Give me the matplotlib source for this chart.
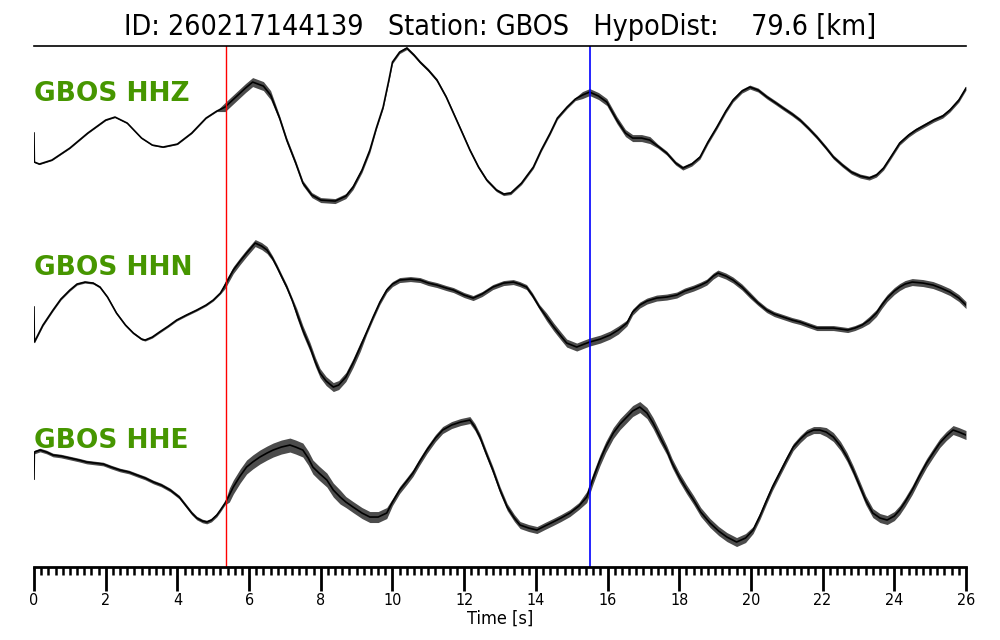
import numpy as np
import matplotlib
matplotlib.use("Agg")
import matplotlib.pyplot as plt

# traces (time [s], relative amplitude)
hhz_t = [0.0, 0.01, 0.15, 0.5, 1.0, 1.5, 2.0, 2.26, 2.6, 3.0, 3.3, 3.6, 4.0, 4.4, 4.8, 5.1, 5.33, 5.6, 5.9, 6.1,
         6.4, 6.6, 6.85, 7.05, 7.3, 7.5, 7.75, 8.0, 8.4, 8.7, 8.9, 9.15, 9.37, 9.55, 9.74, 9.9, 10.0, 10.2, 10.4, 10.6,
         10.77, 11.0, 11.24, 11.5, 11.7, 11.95, 12.16, 12.4, 12.63, 12.9, 13.1, 13.3, 13.6, 13.93, 14.15, 14.4, 14.6, 14.87, 15.1, 15.3,
         15.5, 15.75, 15.98, 16.26, 16.5, 16.7, 16.95, 17.18, 17.4, 17.65, 17.9, 18.1, 18.35, 18.58, 18.8, 19.05, 19.3, 19.5, 19.75, 19.97,
         20.2, 20.45, 20.7, 20.9, 21.15, 21.37, 21.6, 21.84, 22.1, 22.3, 22.55, 22.8, 23.05, 23.3, 23.5, 23.7, 23.9, 24.15, 24.4, 24.6,
         24.85, 25.1, 25.35, 25.55, 25.8, 26.0]
hhz = [-6, -35, -37, -33, -21, -6, 7, 10, 4, -11, -18, -20, -17, -6, 9, 16, 20, 29, 39, 45,
       41, 32, 9, -13, -36, -56, -68, -73, -74, -69, -60, -43, -23, -1, 20, 47, 65, 75, 79, 72,
       65, 57, 47, 30, 14, -6, -23, -40, -53, -63, -67, -66, -56, -40, -23, -6, 9, 20, 28, 32,
       35, 31, 25, 7, -6, -11, -11, -13, -19, -26, -36, -41, -37, -30, -15, 0, 16, 27, 36, 40,
       37, 30, 24, 19, 13, 7, -1, -10, -21, -30, -38, -45, -49, -51, -48, -41, -30, -16, -8, -3,
       2, 7, 11, 17, 27, 39]

hhn_t = [0.0, 0.01, 0.25, 0.53, 0.75, 1.0, 1.2, 1.42, 1.65, 1.84, 2.05, 2.3, 2.55, 2.77, 3.0, 3.1, 3.3, 3.5, 3.75, 3.98,
         4.25, 4.54, 4.8, 5.0, 5.2, 5.33, 5.56, 5.75, 5.93, 6.17, 6.35, 6.5, 6.65, 6.78, 6.9, 7.05, 7.2, 7.33, 7.5, 7.7,
         7.85, 7.98, 8.15, 8.35, 8.5, 8.7, 8.9, 9.1, 9.28, 9.46, 9.65, 9.84, 10.0, 10.2, 10.5, 10.77, 11.0, 11.24, 11.5, 11.7,
         12.0, 12.25, 12.5, 12.8, 13.1, 13.37, 13.55, 13.74, 13.9, 14.1, 14.3, 14.5, 14.7, 14.86, 15.14, 15.35, 15.5, 15.8, 16.07, 16.3,
         16.54, 16.7, 16.9, 17.1, 17.37, 17.65, 17.93, 18.15, 18.4, 18.6, 18.77, 18.95, 19.08, 19.3, 19.5, 19.75, 19.97, 20.2, 20.44, 20.65,
         20.9, 21.15, 21.37, 21.6, 21.84, 22.1, 22.3, 22.5, 22.7, 22.9, 23.1, 23.3, 23.5, 23.65, 23.8, 24.0, 24.15, 24.3, 24.5, 24.8,
         25.08, 25.3, 25.55, 25.8, 26.0]
hhn = [5, -30, -13, 2, 13, 22, 28, 30, 29, 25, 15, -1, -13, -21, -27, -28, -25, -20, -14, -8,
       -3, 2, 7, 12, 19, 27, 42, 51, 59, 69, 66, 62, 54, 45, 36, 25, 12, -1, -18, -35,
       -50, -61, -69, -75, -73, -65, -51, -35, -20, -5, 10, 22, 28, 32, 33, 32, 29, 27, 24, 22,
       17, 14, 18, 25, 29, 30, 28, 25, 17, 5, -5, -15, -24, -31, -35, -32, -30, -27, -23, -18,
       -11, 0, 7, 11, 14, 15, 17, 21, 24, 27, 30, 36, 39, 36, 32, 25, 17, 9, 2, -2,
       -5, -8, -10, -13, -16, -16, -16, -17, -18, -16, -13, -8, -1, 7, 14, 21, 25, 28, 30, 29,
       27, 24, 20, 14, 7]

hhe_t = [0.0, 0.01, 0.17, 0.35, 0.53, 0.75, 1.0, 1.25, 1.47, 1.7, 1.93, 2.15, 2.4, 2.65, 2.87, 3.1, 3.33, 3.55, 3.8, 4.05,
         4.27, 4.4, 4.54, 4.7, 4.82, 4.95, 5.1, 5.2, 5.33, 5.45, 5.56, 5.75, 5.93, 6.1, 6.3, 6.5, 6.67, 6.9, 7.14, 7.3,
         7.5, 7.65, 7.78, 7.95, 8.17, 8.35, 8.54, 8.7, 8.9, 9.15, 9.37, 9.6, 9.84, 10.0, 10.2, 10.4, 10.57, 10.75, 10.96, 11.2,
         11.4, 11.65, 11.9, 12.16, 12.3, 12.44, 12.6, 12.8, 13.0, 13.2, 13.4, 13.56, 13.8, 14.03, 14.25, 14.48, 14.7, 14.95, 15.2, 15.42,
         15.6, 15.79, 15.95, 16.16, 16.35, 16.54, 16.7, 16.9, 17.1, 17.27, 17.45, 17.65, 17.8, 18.0, 18.2, 18.4, 18.6, 18.86, 19.1, 19.33,
         19.6, 19.85, 20.06, 20.25, 20.44, 20.6, 20.8, 21.0, 21.18, 21.38, 21.56, 21.75, 21.92, 22.1, 22.3, 22.5, 22.68, 22.85, 23.05, 23.2,
         23.4, 23.6, 23.8, 24.0, 24.15, 24.3, 24.5, 24.7, 24.9, 25.1, 25.27, 25.45, 25.64, 25.8, 26.0]
hhe = [3, 30, 32, 30, 27, 26, 24, 22, 20, 19, 18, 15, 12, 10, 7, 4, 0, -3, -8, -15,
       -25, -31, -36, -39, -40, -38, -33, -28, -21, -13, -5, 6, 15, 20, 25, 29, 32, 35, 37, 35,
       32, 24, 15, 9, 2, -8, -15, -20, -25, -31, -35, -35, -31, -20, -8, 1, 9, 20, 32, 44,
       52, 57, 60, 62, 55, 45, 30, 12, -8, -25, -36, -43, -46, -48, -44, -40, -36, -31, -24, -15,
       4, 22, 35, 49, 58, 65, 71, 75, 69, 59, 46, 32, 19, 5, -7, -18, -30, -41, -49, -55,
       -60, -56, -48, -34, -18, -5, 9, 23, 35, 43, 49, 52, 52, 50, 45, 36, 25, 12, -5, -18,
       -31, -36, -38, -34, -28, -20, -8, 6, 19, 30, 39, 46, 52, 50, 47]

# half width of the high-frequency noise band, piecewise over time
hhz_noise_edges = [0, 5.3, 6.7, 9.5, 15.2, 17.2, 26]
hhz_noise = [0.5, 4.5, 2.5, 1.5, 3.5, 2]
hhn_noise_edges = [0, 5.3, 6.6, 7.3, 9.2, 14.3, 16.5, 20.0, 23.3, 26]
hhn_noise = [1, 3.5, 2.5, 4.5, 2.5, 4, 3, 2.5, 3.5]
hhe_noise_edges = [0, 5.35, 8.6, 10.0, 12.6, 15.3, 17.6, 20.0, 22.0, 26]
hhe_noise = [1.8, 7, 5.5, 3.5, 3.5, 5.5, 4.5, 3.5, 4.5]

channels = ["GBOS HHZ", "GBOS HHN", "GBOS HHE"]
p_pick = 5.36
s_pick = 15.51
title = "ID: 260217144139   Station: GBOS   HypoDist:    79.6 [km]"

fig = plt.figure(figsize=(10, 6.4), dpi=100)
ax = fig.add_axes([0.034, 0.114, 0.932, 0.814])

traces = [(hhz_t, hhz, hhz_noise_edges, hhz_noise),
          (hhn_t, hhn, hhn_noise_edges, hhn_noise),
          (hhe_t, hhe, hhe_noise_edges, hhe_noise)]
offsets = [440, 255, 85]
label_y = [466, 292, 119]

for (t, a, edges, lev), off, name, ly in zip(traces, offsets, channels, label_y):
    t = np.array(t)
    y = np.array(a) + off
    idx = np.clip(np.searchsorted(edges, t, side="right") - 1, 0, len(lev) - 1)
    w = np.array(lev)[idx]
    ax.fill_between(t, y - w, y + w, color="black", alpha=0.7, lw=0)
    ax.plot(t, y, color="black", lw=1.2)
    ax.text(0, ly, name, color="#469600", fontsize=19, fontweight="bold",
            ha="left", va="baseline")

ax.axvline(p_pick, color="red", lw=1.0)
ax.axvline(s_pick, color="blue", lw=1.2)

ax.set_xlim(0, 26)
ax.set_ylim(0, 521)
ax.set_yticks([])
ax.spines["left"].set_visible(False)
ax.spines["right"].set_visible(False)
ax.spines["top"].set_linewidth(1.2)
ax.spines["bottom"].set_linewidth(2)
ax.set_xticks(np.arange(0, 27, 2))
ax.set_xticks(np.arange(0, 26.01, 0.2), minor=True)
ax.tick_params(axis="x", which="major", length=17, width=2, pad=2)
ax.tick_params(axis="x", which="minor", length=6, width=1.8)
for lab in ax.get_xticklabels():
    lab.set_fontsize(11.5)
    lab.set_fontstretch("condensed")
ax.set_xlabel("Time [s]", fontsize=13, fontstretch="condensed", labelpad=1)
ax.set_title(title, fontsize=20.5, fontstretch="condensed", pad=8)

fig.savefig("out.png", dpi=100)
